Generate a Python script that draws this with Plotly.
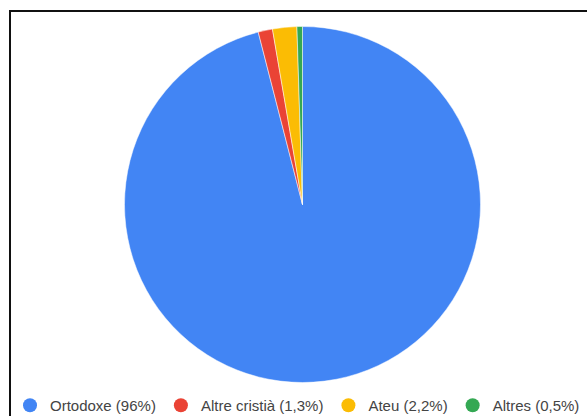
import plotly.graph_objects as go

labels = ["Ortodoxe (96%)", "Altre cristià (1,3%)", "Ateu (2,2%)", "Altres (0,5%)"]
values = [96, 1.3, 2.2, 0.5]
colors = ["#4285F4", "#EA4335", "#FBBC04", "#34A853"]

# Canvas slightly larger than the 587x416 window; the extra edge falls outside the view
W, H = 600, 422
cx, cy, r = 302.5, 204.5, 178

fig = go.Figure()
fig.add_trace(go.Pie(
    labels=labels, values=values, sort=False, direction="clockwise", rotation=0,
    marker=dict(colors=colors, line=dict(color="white", width=0.5)),
    textinfo="none", showlegend=False,
    domain=dict(x=[(cx - r) / W, (cx + r) / W], y=[1 - (cy + r) / H, 1 - (cy - r) / H]),
))
for lab, col in zip(labels, colors):
    fig.add_trace(go.Scatter(x=[None], y=[None], mode="markers", name=lab,
                             marker=dict(symbol="circle", size=14, color=col)))

fig.add_shape(type="rect", xref="paper", yref="paper",
              x0=10 / W, x1=1.05, y0=-0.05, y1=1 - 11 / H,
              line=dict(color="#111", width=2), layer="above")

fig.update_layout(
    width=W, height=H, margin=dict(l=0, r=0, t=0, b=0),
    paper_bgcolor="white", plot_bgcolor="white",
    xaxis=dict(visible=False), yaxis=dict(visible=False),
    showlegend=True,
    legend=dict(orientation="h", x=10 / W, xanchor="left", y=0, yanchor="bottom",
                font=dict(family="Arial, Liberation Sans", size=15, color="#444"),
                bgcolor="rgba(0,0,0,0)", itemsizing="trace"),
)
fig.write_html("out.html", config={"displayModeBar": False},
               post_script="document.body.style.margin='0';document.body.style.overflow='hidden';")
